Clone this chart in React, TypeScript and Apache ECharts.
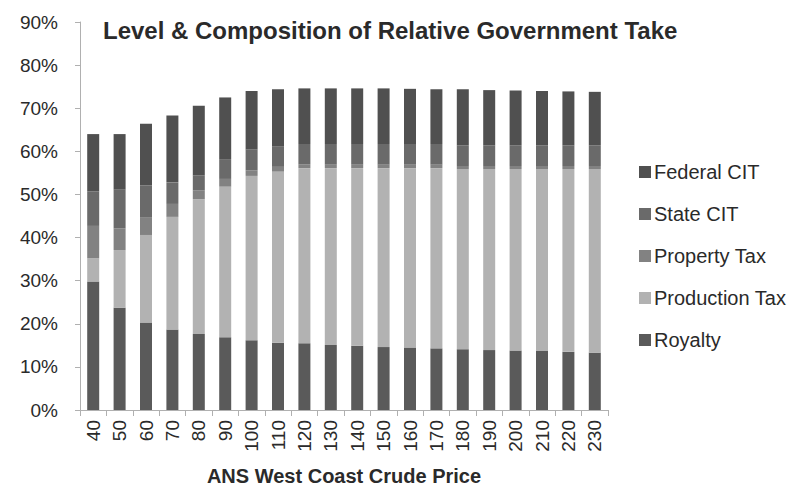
import React, { useEffect, useRef } from "react";
import * as echarts from "echarts";

const categories = ["40","50","60","70","80","90","100","110","120","130","140","150","160","170","180","190","200","210","220","230"];
const royalty = [29.8, 23.7, 20.3, 18.7, 17.6, 16.9, 16.2, 15.6, 15.5, 15.1, 14.9, 14.6, 14.5, 14.3, 14.1, 13.9, 13.8, 13.7, 13.5, 13.3];
const productionTax = [5.4, 13.4, 20.3, 26.1, 31.3, 34.9, 38.1, 39.7, 40.6, 41.0, 41.2, 41.5, 41.6, 41.8, 41.8, 42.0, 42.1, 42.2, 42.4, 42.6];
const propertyTax = [7.5, 5.0, 4.0, 3.0, 2.0, 1.8, 1.3, 1.1, 0.9, 0.8, 0.8, 0.8, 0.8, 0.8, 0.7, 0.7, 0.7, 0.7, 0.7, 0.7];
const stateCIT = [8.0, 9.0, 7.5, 5.0, 3.5, 4.6, 4.8, 4.8, 4.7, 4.8, 4.8, 4.8, 4.8, 4.8, 4.8, 4.8, 4.8, 4.8, 4.8, 4.8];
const federalCIT = [13.3, 12.9, 14.3, 15.5, 16.2, 14.3, 13.6, 13.2, 12.9, 12.9, 12.9, 12.9, 12.8, 12.7, 13.0, 12.8, 12.7, 12.6, 12.5, 12.4];
const yTicks = [0, 10, 20, 30, 40, 50, 60, 70, 80, 90];

const colors = {
  royalty: "#5a5a5a",
  production: "#b2b2b2",
  property: "#828282",
  state: "#6a6a6a",
  federal: "#505050",
};

export default function App() {
  const ref = useRef<HTMLDivElement>(null);
  useEffect(() => {
    if (!ref.current) return;
    const chart = echarts.init(ref.current, undefined, { renderer: "svg" });
    const font = "Liberation Sans, Arial, sans-serif";
    const mk = (name: string, data: number[], color: string) => ({
      name,
      type: "bar",
      stack: "total",
      data,
      barWidth: 12,
      itemStyle: { color },
    });
    chart.setOption({
      animation: false,
      backgroundColor: "#ffffff",
      textStyle: { fontFamily: font },
      title: {
        text: "Level & Composition of Relative Government Take",
        left: 98,
        top: 13,
        textStyle: { fontFamily: font, fontSize: 24, fontWeight: "bold", color: "#2a2a2a" },
      },
      legend: {
        orient: "vertical",
        left: 634,
        top: 157,
        itemWidth: 12,
        itemHeight: 12,
        itemGap: 22,
        icon: "rect",
        data: ["Federal CIT", "State CIT", "Property Tax", "Production Tax", "Royalty"],
        textStyle: { fontFamily: font, fontSize: 20, lineHeight: 20, color: "#2a2a2a", padding: [0, 0, 0, -2] },
      },
      grid: { left: 80, right: 195, top: 22, bottom: 85, containLabel: false },
      xAxis: {
        type: "category",
        data: categories,
        name: "ANS West Coast Crude Price",
        nameLocation: "middle",
        nameGap: 56,
        nameTextStyle: { fontFamily: font, fontSize: 20, fontWeight: "bold", color: "#2a2a2a" },
        axisLine: { lineStyle: { color: "#b0b0b0" } },
        axisTick: { show: true, length: 6, lineStyle: { color: "#b0b0b0" } },
        axisLabel: { rotate: 90, fontSize: 19, color: "#2a2a2a", margin: 10, fontFamily: font },
      },
      yAxis: {
        type: "value",
        min: 0,
        max: 90,
        interval: 10,
        splitLine: { show: false },
        axisLine: { show: true, lineStyle: { color: "#b0b0b0" } },
        axisTick: { show: true, length: 5, lineStyle: { color: "#b0b0b0" } },
        axisLabel: {
          fontSize: 19,
          color: "#2a2a2a",
          margin: 22,
          fontFamily: font,
          formatter: (v: number) => (yTicks.includes(v) ? v + "%" : ""),
        },
      },
      series: [
        mk("Royalty", royalty, colors.royalty),
        mk("Production Tax", productionTax, colors.production),
        mk("Property Tax", propertyTax, colors.property),
        mk("State CIT", stateCIT, colors.state),
        mk("Federal CIT", federalCIT, colors.federal),
      ],
    });
    return () => chart.dispose();
  }, []);
  return (
    <div
      ref={ref}
      style={{ position: "absolute", left: 0, top: 0, width: 803, height: 495 }}
    />
  );
}
